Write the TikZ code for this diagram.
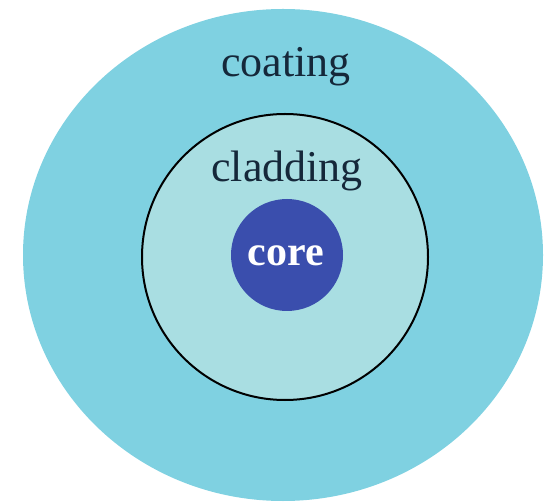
\documentclass[tikz,border=0pt]{standalone}
\usepackage{fontspec}
\setmainfont{Liberation Serif}
\definecolor{coatc}{HTML}{7FD1E1}
\definecolor{cladc}{HTML}{A9DEE2}
\definecolor{corec}{HTML}{3A4EAD}
\definecolor{txtc}{HTML}{15283A}
\tikzset{
  lbl/.style={anchor=base, inner sep=0pt, text=txtc, font=\fontsize{44}{48}\selectfont},
  corelbl/.style={anchor=base, inner sep=0pt, text=white, font=\fontsize{42}{46}\bfseries\selectfont},
}
\begin{document}
\begin{tikzpicture}[x=1pt,y=1pt]
\useasboundingbox (0,0) rectangle (546,501);
\fill[coatc] (283,246) ellipse [x radius=260, y radius=246];
\draw[fill=cladc, draw=black, line width=2pt] (285,244) circle [radius=143];
\fill[corec] (287,246) circle [radius=56];
\node[lbl] (coating) at (286,424) {coating};
\node[lbl] (cladding) at (287,319) {cladding};
\node[corelbl] (core) at (286,235) {core};
\end{tikzpicture}
\end{document}
